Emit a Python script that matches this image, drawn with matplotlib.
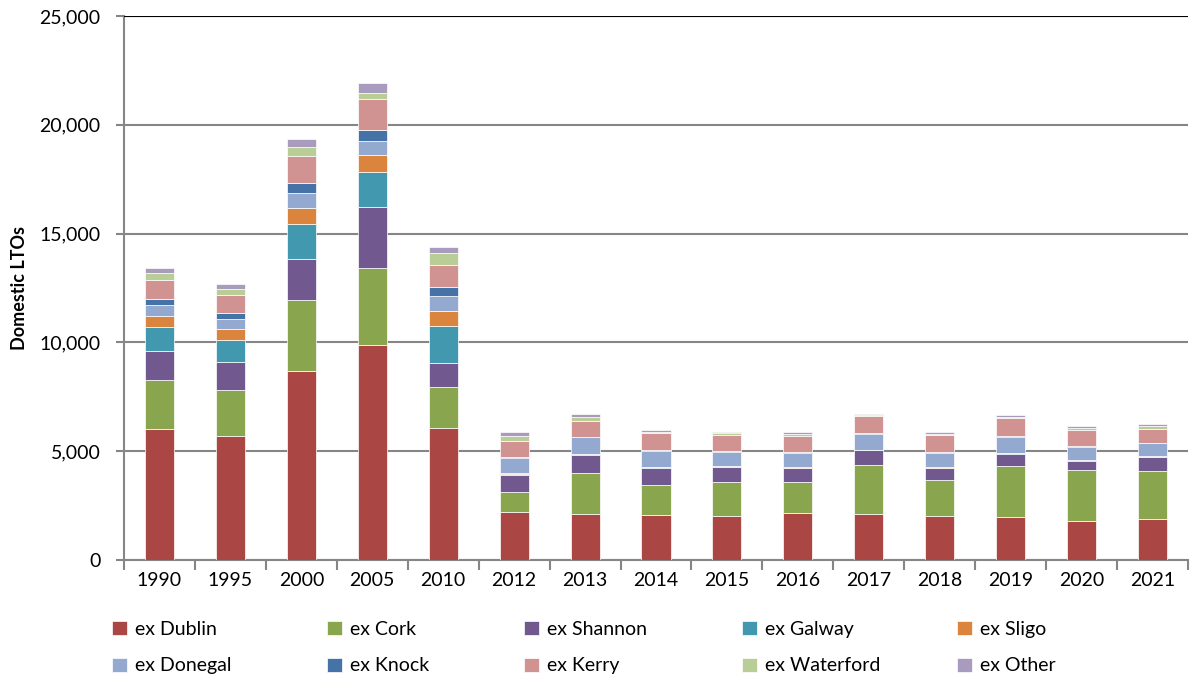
import matplotlib
matplotlib.use("Agg")
import matplotlib.pyplot as plt
import numpy as np

years = ["1990", "1995", "2000", "2005", "2010", "2012", "2013", "2014",
         "2015", "2016", "2017", "2018", "2019", "2020", "2021"]

dublin    = [6035, 5700, 8686, 9867, 6081, 2220, 2128, 2068, 2022, 2160, 2128, 2036, 1990, 1806, 1898]
cork      = [2250, 2130, 3249, 3553, 1870, 891, 1857, 1379, 1563, 1411, 2224, 1627, 2316, 2330, 2179]
shannon   = [1320, 1257, 1899, 2818, 1089, 782, 841, 795, 675, 643, 684, 551, 578, 428, 643]
galway    = [1117, 1040, 1623, 1608, 1728, 46, 30, 20, 20, 20, 20, 20, 20, 20, 20]
sligo     = [505, 475, 721, 754, 662, 46, 16, 20, 20, 20, 20, 20, 20, 20, 20]
donegal   = [492, 475, 689, 657, 703, 717, 767, 741, 677, 678, 727, 675, 715, 603, 604]
knock     = [290, 290, 446, 506, 400, 46, 20, 46, 46, 45, 30, 45, 46, 46, 20]
kerry     = [873, 827, 1270, 1438, 1039, 735, 729, 754, 736, 736, 763, 782, 841, 722, 625]
waterford = [294, 246, 398, 248, 552, 216, 170, 74, 64, 78, 46, 46, 60, 106, 137]
other     = [257, 245, 368, 460, 248, 184, 152, 64, 60, 92, 78, 64, 78, 78, 111]

series = [
    ("ex Dublin", dublin, "#AA4643"),
    ("ex Cork", cork, "#89A54E"),
    ("ex Shannon", shannon, "#71588F"),
    ("ex Galway", galway, "#4198AF"),
    ("ex Sligo", sligo, "#DB843D"),
    ("ex Donegal", donegal, "#93A9CF"),
    ("ex Knock", knock, "#4572A7"),
    ("ex Kerry", kerry, "#D19392"),
    ("ex Waterford", waterford, "#B9CD96"),
    ("ex Other", other, "#A99BBD"),
]

plt.rcParams['font.family'] = ['Lato', 'DejaVu Sans']

W, H = 1192, 677
fig = plt.figure(figsize=(W / 100, H / 100), dpi=100)
ax = fig.add_axes([124 / W, 1 - 560 / H, (1188 - 124) / W, (560 - 16) / H])

x = np.arange(len(years))
bottom = np.zeros(len(years))
handles = []
for name, vals, col in series:
    v = np.array(vals, dtype=float)
    b = ax.bar(x, v, 0.41, bottom=bottom, color=col, edgecolor="white",
               linewidth=0.5, label=name, zorder=3)
    handles.append(b)
    bottom += v

ax.set_xlim(-0.5, len(years) - 0.5)
ax.set_ylim(0, 25000)
yt = np.arange(0, 25001, 5000)
ax.set_yticks(yt)
ax.set_yticklabels([f"{int(t):,}" for t in yt], fontsize=14)
ax.set_xticks(x)
ax.set_xticklabels(years, fontsize=14)
ax.set_xticks(np.arange(-0.5, len(years)), minor=True)
ax.tick_params(axis="x", which="major", length=0, pad=9)
ax.tick_params(axis="x", which="minor", length=7, width=1.5, color="#868686")
ax.tick_params(axis="y", length=6, width=1.5, color="#868686", pad=11)

ax.yaxis.grid(True, color="#868686", linewidth=1.5, zorder=0)
ax.set_axisbelow(True)
ax.axhline(25000, color="black", linewidth=1.5, zorder=4)
for s in ["top", "right"]:
    ax.spines[s].set_visible(False)
for s in ["left", "bottom"]:
    ax.spines[s].set_color("#868686")
    ax.spines[s].set_linewidth(1.5)

ax.set_ylabel("Domestic LTOs", fontsize=13, fontweight="bold", labelpad=8)

# legend: 5 equal columns, 2 rows, filled row-wise
col_x = [112, 327, 524, 742, 957]
for j, cx in enumerate(col_x):
    idx = [j, j + 5]
    fig.legend(handles=[handles[i] for i in idx],
               labels=[series[i][0] for i in idx],
               loc="upper left", bbox_to_anchor=(cx / W, 1 - 621 / H),
               frameon=False, fontsize=14, handlelength=0.75,
               handleheight=0.75, handletextpad=0.45, labelspacing=1.0,
               borderpad=0, borderaxespad=0)

fig.savefig("out.png", dpi=100)
